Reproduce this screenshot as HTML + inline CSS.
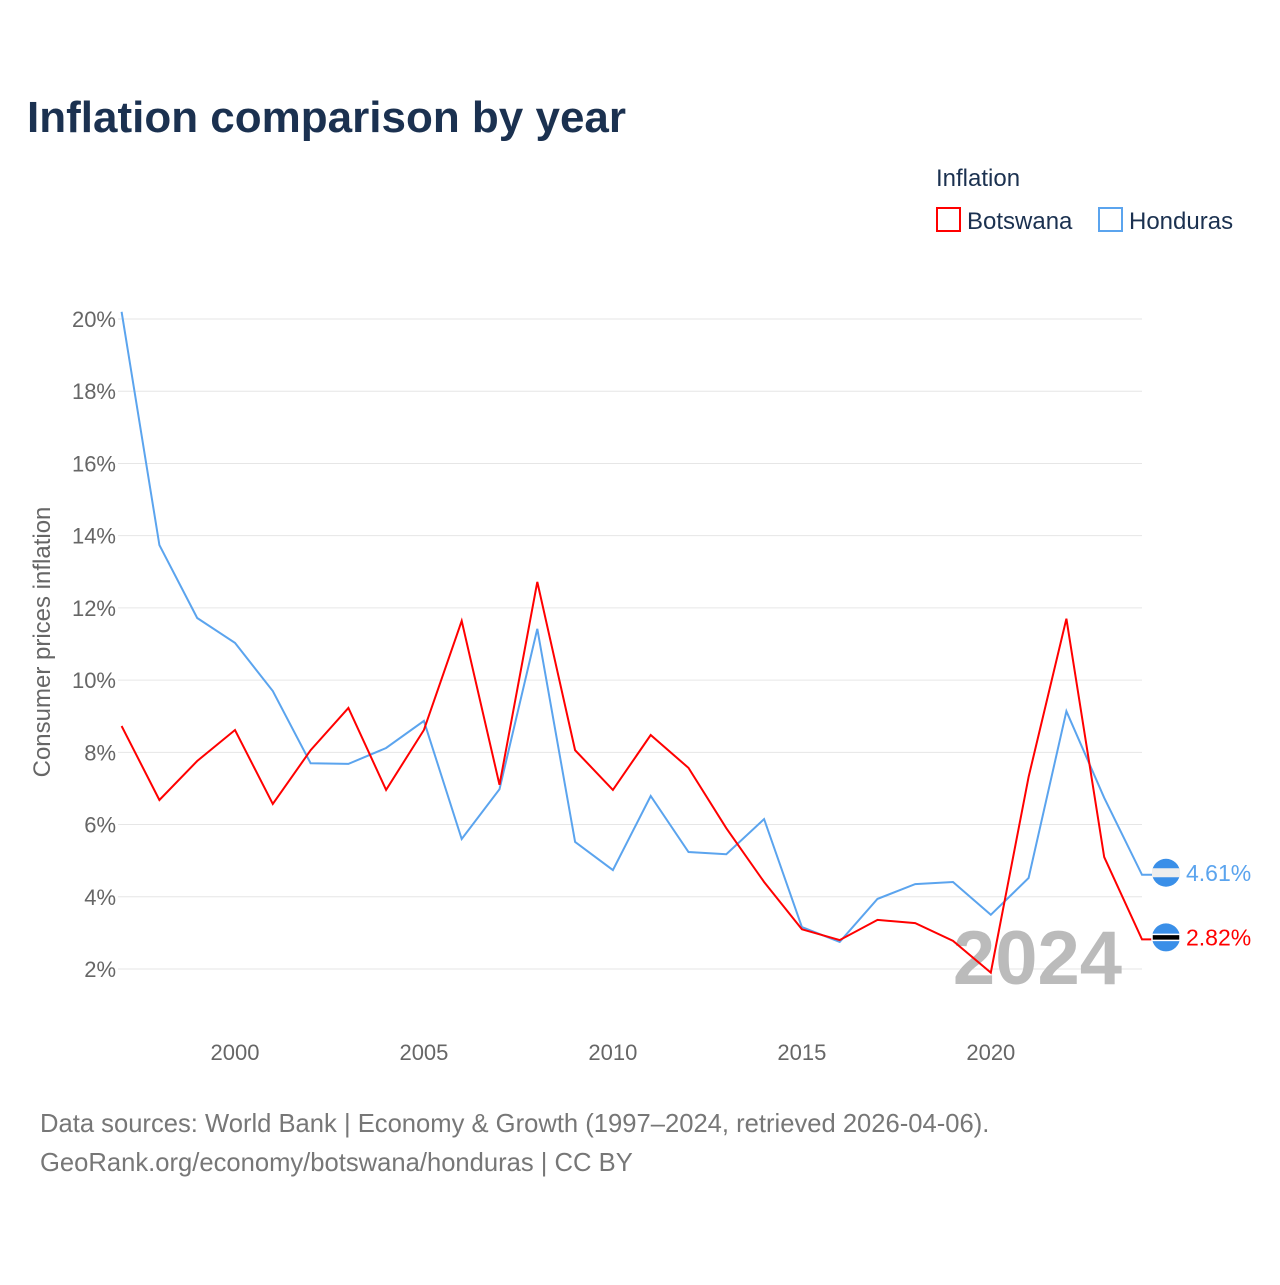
<!DOCTYPE html>
<html><head><meta charset="utf-8">
<style>
body{margin:0;background:#fff;font-family:"Liberation Sans",sans-serif;}
svg text{font-family:"Liberation Sans",sans-serif;}
</style></head>
<body>
<svg width="1280" height="1280" viewBox="0 0 1280 1280">
<text x="27" y="132" font-size="44" font-weight="bold" fill="#1b3150">Inflation comparison by year</text>
<text x="936" y="186" font-size="24" fill="#1b3150">Inflation</text>
<g><rect x="937" y="208" width="23" height="23" fill="none" stroke="#ff0000" stroke-width="2"/><text x="967" y="229" font-size="24" fill="#1b3150">Botswana</text></g>
<g><rect x="1099" y="208" width="23" height="23" fill="none" stroke="#5ba4ee" stroke-width="2"/><text x="1129" y="229" font-size="24" fill="#1b3150">Honduras</text></g>
<g id="grid"></g>
<g id="yticks"></g>
<g id="xticks"></g>
<text transform="translate(50,642) rotate(-90)" text-anchor="middle" font-size="24" fill="#666">Consumer prices inflation</text>
<text x="1122" y="984" text-anchor="end" font-size="76" font-weight="bold" fill="#bbb">2024</text>
<g id="series"></g>
<text x="40" y="1132" font-size="25.6" fill="#777">Data sources: World Bank | Economy &amp; Growth (1997–2024, retrieved 2026-04-06).</text>
<text x="40" y="1171" font-size="25.6" fill="#777">GeoRank.org/economy/botswana/honduras | CC BY</text>
</svg>
<script>
const years=[1997,1998,1999,2000,2001,2002,2003,2004,2005,2006,2007,2008,2009,2010,2011,2012,2013,2014,2015,2016,2017,2018,2019,2020,2021,2022,2023,2024];
const botswana=[8.73,6.68,7.76,8.62,6.57,8.06,9.23,6.96,8.62,11.64,7.1,12.72,8.06,6.96,8.48,7.57,5.9,4.41,3.1,2.8,3.36,3.27,2.78,1.9,7.32,11.7,5.1,2.82];
const honduras=[20.2,13.74,11.72,11.03,9.7,7.7,7.68,8.12,8.87,5.6,6.98,11.42,5.52,4.74,6.79,5.24,5.18,6.15,3.16,2.75,3.94,4.35,4.41,3.5,4.52,9.14,6.74,4.61];
const yTicks=[2,4,6,8,10,12,14,16,18,20];
const xTicks=[2000,2005,2010,2015,2020];
const NS="http://www.w3.org/2000/svg";
const X=y=>121.6+(y-1997)*(1142-121.6)/27;
const Y=v=>969-(v-2)*36.11;
function mk(tag,attrs,parent){const e=document.createElementNS(NS,tag);for(const k in attrs)e.setAttribute(k,attrs[k]);parent.appendChild(e);return e;}
const grid=document.getElementById('grid'),yt=document.getElementById('yticks'),xt=document.getElementById('xticks'),ser=document.getElementById('series');
yTicks.forEach(v=>{
 const l=mk('line',{x1:118,x2:1142,y1:Y(v),y2:Y(v),stroke:'#e6e6e6','stroke-width':1},grid);
 
 
 const t=mk('text',{x:116,y:Y(v)+8,'text-anchor':'end','font-size':22,fill:'#666'},yt);
 t.textContent=v+'%';
 
 
});
xTicks.forEach(y=>{
 const t=mk('text',{x:X(y),y:1060,'text-anchor':'middle','font-size':22,fill:'#666'},xt);
 t.textContent=y;
 
 
});
function series(vals,color,name,label){
 let d=vals.map((v,i)=>(i?'L':'M')+X(years[i]).toFixed(1)+','+Y(v).toFixed(1)).join(' ');
 const lastLine=Y(vals[vals.length-1]);
 d+=' L1160,'+lastLine.toFixed(1);
 const p=mk('path',{d:d,fill:'none',stroke:color,'stroke-width':2},ser);
 
 
 const last=lastLine-2;
 const c=mk('circle',{cx:1166,cy:last,r:14,fill:'#3a8fe8'},ser);
 
 
 if(name==='botswana'){mk('rect',{x:1152,y:last-3,width:28,height:6,fill:'#000',stroke:'#fff','stroke-width':1.5},ser);}
 else{mk('rect',{x:1152,y:last-4.5,width:28,height:9,fill:'#eee'},ser);}
 const t=mk('text',{x:1186,y:last+8,'font-size':23,fill:color},ser);
 t.textContent=label;
 
 
}
series(honduras,'#5ba4ee','honduras',honduras[honduras.length-1].toFixed(2)+'%');
series(botswana,'#ff0000','botswana',botswana[botswana.length-1].toFixed(2)+'%');
</script>
</body></html>
